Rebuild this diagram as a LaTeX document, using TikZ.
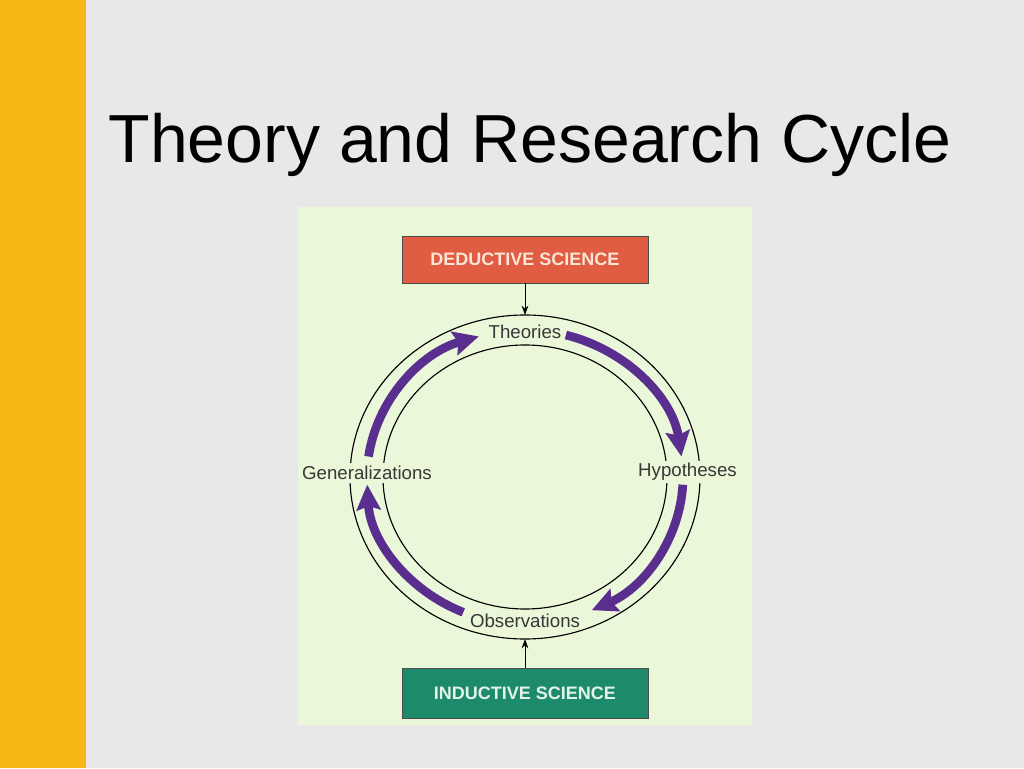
\documentclass[tikz,border=0pt]{standalone}
\usepackage{fontspec}
\setmainfont{Liberation Sans}
\usetikzlibrary{arrows.meta}
\definecolor{slidegray}{RGB}{232,232,232}
\definecolor{baryellow}{RGB}{248,182,22}
\definecolor{panelgreen}{RGB}{235,247,217}
\definecolor{dedred}{RGB}{224,92,66}
\definecolor{indteal}{RGB}{30,138,108}
\definecolor{cyclepurple}{RGB}{89,46,143}
\definecolor{labelgray}{RGB}{55,55,55}

\begin{document}
\begin{tikzpicture}[x=0.75pt, y=0.75pt,
  scibox/.style={draw=black!70, line width=0.7pt, minimum width=246*0.75pt, inner sep=0pt,
    font=\fontsize{13.5}{16}\selectfont\bfseries},
  ringlabel/.style={text=labelgray, inner sep=2pt, font=\fontsize{14}{16}\selectfont},
  cyclearrow/.style={cyclepurple, line width=6.5pt, -{Stealth[length=19pt, width=18pt, inset=3pt]}},
  feedarrow/.style={line width=0.7pt, -{Stealth[length=7pt, width=5pt]}}]
\fill[slidegray] (0,0) rectangle (1024,768);
\fill[baryellow] (0,0) rectangle (86,768);
\fill[panelgreen] (298,43) rectangle (752,561);
\node[anchor=base, font=\fontsize{51}{61}\selectfont] (title) at (530,605) {Theory and Research Cycle};
\node[scibox, fill=dedred, text={rgb,255:red,251;green,229;blue,214}, minimum height=47*0.75pt] (deductive) at (525,508.5) {DEDUCTIVE SCIENCE};
\node[scibox, fill=indteal, text={rgb,255:red,228;green,243;blue,234}, minimum height=50*0.75pt] (inductive) at (525,75) {INDUCTIVE SCIENCE};
\coordinate (c) at (525,291);
\draw[line width=0.85pt] (c) ellipse[x radius=175, y radius=162];
\draw[line width=0.85pt] (c) ellipse[x radius=142, y radius=132];
\coordinate (ringtop) at (525,453);
\coordinate (ringbottom) at (525,129);
\node[ringlabel] (theories) at (525,436) {Theories};
\node[ringlabel] (observations) at (525,147) {Observations};
\node[ringlabel, fill=panelgreen] (hypotheses) at (687.5,296) {Hypotheses};
\node[ringlabel, fill=panelgreen] (generalizations) at (367,295) {Generalizations};
\foreach \s/\e in {75/8, -3/-65, -113/-177, 172/107}
  {\draw[cyclearrow] (c) ++(\s:158 and 147) arc[start angle=\s, end angle=\e, x radius=158, y radius=147];}
\draw[feedarrow] (deductive) -- (ringtop);
\draw[feedarrow] (inductive) -- (ringbottom);
\end{tikzpicture}
\end{document}
